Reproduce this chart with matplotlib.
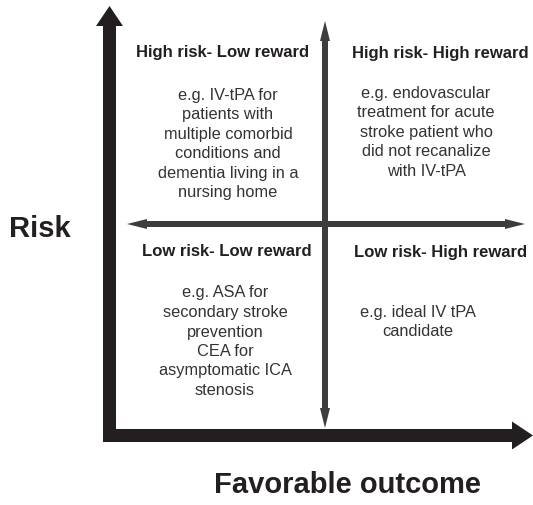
import matplotlib
matplotlib.use('Agg')
import matplotlib.pyplot as plt

plt.rcParams['font.family'] = ['Liberation Sans', 'DejaVu Sans']

# quadrant headings and descriptions
titles = ["High risk- Low reward", "High risk- High reward",
          "Low risk- Low reward", "Low risk- High reward"]
bodies = [
    ["e.g. IV-tPA for", "patients with", "multiple comorbid",
     "conditions and", "dementia living in a", "nursing home"],
    ["e.g. endovascular", "treatment for acute", "stroke patient who",
     "did not recanalize", "with IV-tPA"],
    ["e.g. ASA for", "secondary stroke", "prevention", "CEA for",
     "asymptomatic ICA", "stenosis"],
    ["e.g. ideal IV tPA", "candidate"],
]
y_label = "Risk"
x_label = "Favorable outcome"

W, H = 533, 506
fig = plt.figure(figsize=(W / 100, H / 100), dpi=100)
ax = fig.add_axes([0, 0, 1, 1])
ax.set_xlim(0, W)
ax.set_ylim(H, 0)
ax.axis('off')

# main black axes
black = '#231f20'
ax.arrow(109.5, 443, 0, -436, width=13, head_width=27, head_length=20,
         length_includes_head=True, color=black, lw=0)
ax.arrow(103, 436.5, 430, 0, width=13, head_width=28, head_length=21,
         length_includes_head=True, color=black, lw=0)

# gray cross dividing the quadrants
gray = '#3d3d3d'
cx, cy = 325, 225
for (x0, y0, dx, dy) in [(cx, cy, 0, 22 - cy), (cx, cy, 0, 429 - cy),
                         (cx, cy, 127 - cx, 0), (cx, cy, 525 - cx, 0)]:
    ax.arrow(x0, y0, dx, dy, width=6, head_width=10, head_length=20,
             length_includes_head=True, color=gray, lw=0)

# quadrant text
title_pos = [(223, 52), (440, 53), (227, 252), (441, 252)]
body_pos = [(228, 95), (426, 93), (225, 293), (418, 312)]
for t, (tx, ty) in zip(titles, title_pos):
    ax.text(tx, ty, t, ha='center', va='center', fontsize=12,
            fontweight='bold', color=black)
for lines, (bx, by) in zip(bodies, body_pos):
    for i, line in enumerate(lines):
        ax.text(bx, by + i * 19.5, line, ha='center', va='center',
                fontsize=11.8, color='#333333')

ax.text(40, 229, y_label, ha='center', va='center', fontsize=21,
        fontweight='bold', color=black)
ax.text(347, 485, x_label, ha='center', va='center', fontsize=21,
        fontweight='bold', color=black)

fig.savefig('out.png', dpi=100)
